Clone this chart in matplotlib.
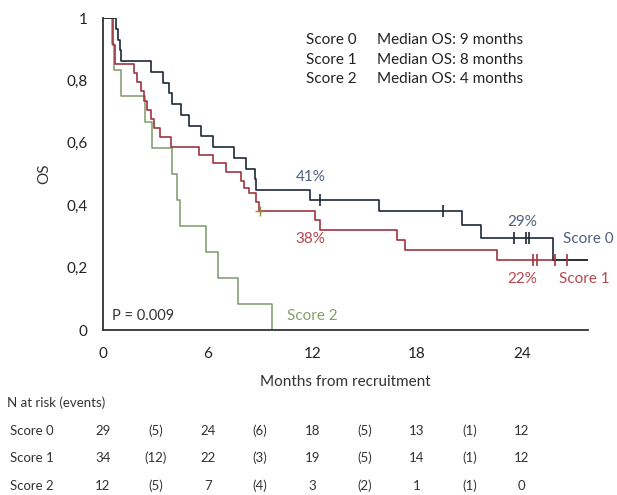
import matplotlib
matplotlib.use('Agg')
from matplotlib import pyplot as plt
from matplotlib import transforms
from matplotlib.ticker import FuncFormatter

# Kaplan-Meier steps (months, OS)
score0_t = [0, 0.76, 0.88, 0.96, 1.02, 2.74, 3.45, 3.79, 3.98, 4.47, 4.94, 5.61, 6.32, 7.53, 8.2, 8.7, 8.78,
            11.84, 15.82, 20.56, 21.65, 25.79, 27.8]
score0_s = [1, 0.966, 0.931, 0.897, 0.862, 0.828, 0.793, 0.759, 0.724, 0.690, 0.655, 0.621, 0.586, 0.552, 0.517,
            0.483, 0.448, 0.417, 0.380, 0.337, 0.294, 0.225, 0.225]
score0_cens_t = [12.45, 19.48, 23.56, 24.25, 24.39]
score0_cens_s = [0.417, 0.380, 0.294, 0.294, 0.294]

score1_t = [0, 0.55, 0.7, 1.78, 1.95, 2.17, 2.35, 2.55, 2.74, 2.95, 3.25, 3.89, 5.52, 6.28, 7.05, 7.91, 8.1,
            8.39, 8.78, 8.97, 12.18, 12.45, 16.86, 17.3, 22.57, 27.8]
score1_s = [1, 0.912, 0.853, 0.824, 0.794, 0.765, 0.735, 0.706, 0.676, 0.647, 0.618, 0.588, 0.562, 0.535, 0.508,
            0.478, 0.455, 0.44, 0.41, 0.383, 0.353, 0.319, 0.289, 0.257, 0.225, 0.225]
score1_cens_t = [24.66, 24.87, 25.92, 26.6]
score1_cens_s = [0.225, 0.225, 0.225, 0.225]
score1_olive_t = [9.02]
score1_olive_s = [0.383]

score2_t = [0, 0.53, 0.63, 1.02, 2.41, 2.83, 3.98, 4.25, 4.41, 5.90, 6.57, 7.72, 9.69]
score2_s = [1, 0.917, 0.833, 0.75, 0.667, 0.583, 0.5, 0.417, 0.333, 0.25, 0.167, 0.083, 0]

# N at risk table
risk_months = [0, 6, 12, 18, 24]
event_months = [3, 9, 15, 21]
score0_risk = [29, 24, 18, 13, 12]
score0_events = [5, 6, 5, 1]
score1_risk = [34, 22, 19, 14, 12]
score1_events = [12, 3, 5, 1]
score2_risk = [12, 7, 3, 1, 0]
score2_events = [5, 4, 2, 1]

c0 = '#1e2935'
c1 = '#a03340'
c2 = '#7f9868'
t0 = '#4f607c'
t1 = '#b5474f'
t2 = '#869f6c'

plt.rcParams['font.family'] = ['Lato', 'DejaVu Sans']

fig = plt.figure(figsize=(6.17, 4.95), dpi=100)
ax = fig.add_axes([103 / 617, 1 - 330 / 495, (588 - 103) / 617, (330 - 18) / 495])

ax.step(score2_t, score2_s, where='post', color=c2, lw=1.1)
ax.step(score1_t, score1_s, where='post', color=c1, lw=1.2)
ax.step(score0_t, score0_s, where='post', color=c0, lw=1.2)
ax.plot(score0_cens_t, score0_cens_s, ls='none', marker='|', ms=8, mew=1.2, color=c0)
ax.plot(score1_cens_t, score1_cens_s, ls='none', marker='|', ms=8, mew=1.2, color=c1)
ax.plot(score1_olive_t, score1_olive_s, ls='none', marker='+', ms=7, mew=1.0, color='#8a8a3a')

ax.set_xlim(0, 27.8)
ax.set_ylim(0, 1)
ax.set_xticks([0, 6, 12, 18, 24])
ax.set_yticks([0, 0.2, 0.4, 0.6, 0.8, 1])
ax.yaxis.set_major_formatter(FuncFormatter(lambda v, p: ('%g' % round(v, 1)).replace('.', ',')))
ax.tick_params(length=0, labelsize=11, colors='#222222')
ax.tick_params(axis='y', pad=11)
ax.tick_params(axis='x', pad=12)
for side in ['top', 'right']:
    ax.spines[side].set_visible(False)
for side in ['left', 'bottom']:
    ax.spines[side].set_color('#333333')
    ax.spines[side].set_linewidth(1.3)

ax.set_ylabel('OS', fontsize=11, color='#333333', labelpad=11)
ax.set_xlabel('Months from recruitment', fontsize=11, color='#333333', labelpad=10)

# median legend text
legend_rows = [('Score 0', 'Median OS: 9 months'), ('Score 1', 'Median OS: 8 months'),
               ('Score 2', 'Median OS: 4 months')]
for i, (a, b) in enumerate(legend_rows):
    fig.text(306 / 617, 1 - (40 + i * 19.5) / 495, a, fontsize=11, color='#222222', va='center')
    fig.text(377 / 617, 1 - (40 + i * 19.5) / 495, b, fontsize=11, color='#222222', va='center')

def px(x, y):
    return ((x - 104) / 17.4, (330 - y) / 312)

ax.text(*px(296, 177), '41%', fontsize=11, color=t0, va='center')
ax.text(*px(296, 239), '38%', fontsize=11, color=t1, va='center')
ax.text(*px(507, 222), '29%', fontsize=11, color=t0, va='center')
ax.text(*px(507, 279), '22%', fontsize=11, color=t1, va='center')
ax.text(*px(563, 239), 'Score 0', fontsize=11, color=t0, va='center', clip_on=False)
ax.text(*px(559, 279), 'Score 1', fontsize=11, color=t1, va='center', clip_on=False)
ax.text(*px(288, 316), 'Score 2', fontsize=11, color=t2, va='center')
ax.text(*px(113, 316), 'P = 0.009', fontsize=10.5, color='#333333', va='center')

# risk table below
tr = transforms.blended_transform_factory(ax.transData, fig.transFigure)
fig.text(7 / 617, 1 - 403 / 495, 'N at risk (events)', fontsize=9.5, color='#333333', va='center')
rows = [('Score 0', score0_risk, score0_events), ('Score 1', score1_risk, score1_events),
        ('Score 2', score2_risk, score2_events)]
row_y = [431, 458, 486]
for (name, risk, events), yy in zip(rows, row_y):
    yf = 1 - yy / 495
    fig.text(10 / 617, yf, name, fontsize=9.5, color='#333333', va='center')
    for m, n in zip(risk_months, risk):
        ax.text(m, yf, str(n), transform=tr, fontsize=9.5, color='#333333', ha='center', va='center')
    for m, n in zip(event_months, events):
        ax.text(m, yf, '(' + str(n) + ')', transform=tr, fontsize=9.5, color='#333333', ha='center', va='center')

fig.savefig('out.png', dpi=100)
